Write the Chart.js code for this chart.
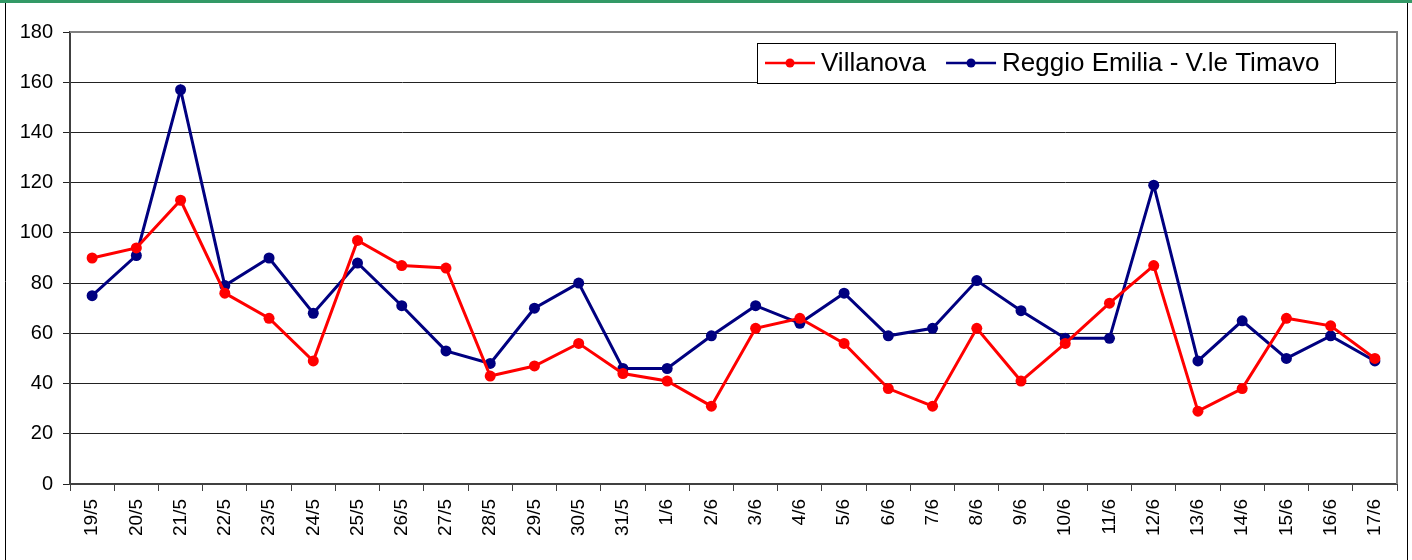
<!DOCTYPE html>
<html>
<head>
<meta charset="utf-8">
<script src="https://cdn.jsdelivr.net/npm/chart.js@4/dist/chart.umd.min.js"></script>
<style>
  html, body { margin: 0; padding: 0; background: #fff; }
  canvas { display: block; }
</style>
</head>
<body>
<canvas id="myChart" width="1412" height="560"></canvas>
<script>
const days = ['19/5','20/5','21/5','22/5','23/5','24/5','25/5','26/5','27/5','28/5',
              '29/5','30/5','31/5','1/6','2/6','3/6','4/6','5/6','6/6','7/6',
              '8/6','9/6','10/6','11/6','12/6','13/6','14/6','15/6','16/6','17/6']
const villanova = [90, 94, 113, 76, 66, 49, 97, 87, 86, 43,
                   47, 56, 44, 41, 31, 62, 66, 56, 38, 31,
                   62, 41, 56, 72, 87, 29, 38, 66, 63, 50]
const reggio = [75, 91, 157, 79, 90, 68, 88, 71, 53, 48,
                70, 80, 46, 46, 59, 71, 64, 76, 59, 62,
                81, 69, 58, 58, 119, 49, 65, 50, 59, 49]
const yTicks = [0, 20, 40, 60, 80, 100, 120, 140, 160, 180]
const seriesNames = ['Villanova', 'Reggio Emilia - V.le Timavo']

// frame around the whole picture + grey border on top/right of plot
const framePlugin = {
  id: 'frame',
  beforeDraw(chart) {
    const c = chart.ctx
    c.save()
    c.fillStyle = '#fff'
    c.fillRect(0, 0, chart.width, chart.height)
    c.strokeStyle = '#000'
    c.lineWidth = 1
    c.beginPath()
    c.moveTo(5.5, 3); c.lineTo(5.5, chart.height)
    c.moveTo(1407.5, 3); c.lineTo(1407.5, chart.height)
    c.stroke()
    c.fillStyle = '#339966'
    c.fillRect(0, 0, chart.width, 3)
    c.restore()
  },
  afterDatasetsDraw(chart) {
    const a = chart.chartArea
    const c = chart.ctx
    c.save()
    c.strokeStyle = '#808080'
    c.lineWidth = 2
    c.beginPath()
    c.moveTo(a.left, a.top)
    c.lineTo(a.right, a.top)
    c.lineTo(a.right, a.bottom)
    c.stroke()
    c.restore()
  }
}

// legend box inside the plot, like the original
const boxLegend = {
  id: 'boxLegend',
  afterDraw(chart) {
    const c = chart.ctx
    const x0 = 757, y0 = 43, w = 578, h = 40
    c.save()
    c.fillStyle = '#fff'
    c.fillRect(x0, y0, w, h)
    c.strokeStyle = '#000'
    c.lineWidth = 1
    c.strokeRect(x0 + 0.5, y0 + 0.5, w, h)
    c.font = '26px "Liberation Sans", Arial, sans-serif'
    c.textBaseline = 'middle'
    let x = x0 + 8
    const y = y0 + h / 2
    chart.data.datasets.forEach(ds => {
      c.strokeStyle = ds.borderColor
      c.lineWidth = 2.5
      c.beginPath()
      c.moveTo(x, y); c.lineTo(x + 50, y)
      c.stroke()
      c.fillStyle = ds.borderColor
      c.beginPath()
      c.arc(x + 25, y, 4.5, 0, Math.PI * 2)
      c.fill()
      c.fillStyle = '#000'
      c.fillText(ds.label, x + 56, y + 1)
      x += 56 + c.measureText(ds.label).width + 20
    })
    c.restore()
  }
}

var ctx = document.getElementById('myChart').getContext('2d')
const myChart = new Chart(ctx, {
  type: 'line',
  data: {
    labels: days,
    datasets: [{
      label: seriesNames[0],
      data: villanova,
      borderColor: '#ff0000',
      backgroundColor: '#ff0000',
      borderWidth: 3,
      pointRadius: 5.5,
      pointBorderWidth: 0,
      tension: 0
    }, {
      label: seriesNames[1],
      data: reggio,
      borderColor: '#000080',
      backgroundColor: '#000080',
      borderWidth: 3,
      pointRadius: 5.5,
      pointBorderWidth: 0,
      tension: 0
    }]
  },
  options: {
    responsive: false,
    animation: false,
    layout: { padding: { left: 0, right: 15, top: 32, bottom: 0 } },
    plugins: {
      legend: { display: false },
      tooltip: { enabled: false }
    },
    scales: {
      x: {
        offset: true,
        grid: { offset: true, drawOnChartArea: false, tickLength: 7, color: '#404040', lineWidth: 1 },
        border: { color: '#404040', width: 2 },
        ticks: {
          minRotation: 90, maxRotation: 90, autoSkip: false, padding: 8,
          color: '#000',
          font: { family: '"Liberation Sans", Arial, sans-serif', size: 19 }
        },
        afterFit(scale) { scale.height = 76 }
      },
      y: {
        min: 0, max: 180,
        afterBuildTicks(scale) { scale.ticks = yTicks.map(v => ({ value: v })) },
        grid: { color: '#222', lineWidth: 1, tickLength: 7 },
        border: { color: '#404040', width: 2 },
        ticks: {
          padding: 10, color: '#000',
          font: { family: '"Liberation Sans", Arial, sans-serif', size: 20 }
        },
        afterFit(scale) { scale.width = 70 }
      }
    }
  },
  plugins: [framePlugin, boxLegend]
})
</script>
</body>
</html>
